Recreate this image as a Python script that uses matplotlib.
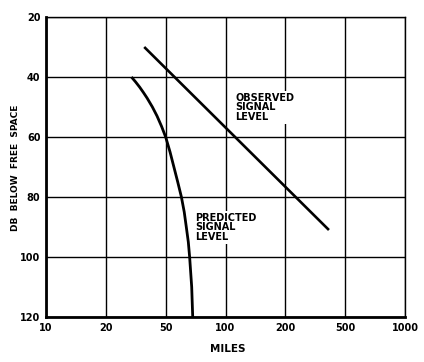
import numpy as np
import matplotlib
matplotlib.use("Agg")
import matplotlib.pyplot as plt

# miles axis is drawn with equal spacing between the 1-2-5 labels
mile_ticks = [10, 20, 50, 100, 200, 500, 1000]
db_ticks = [20, 40, 60, 80, 100, 120]

# observed signal level (straight line)
obs_miles = [36, 390]
obs_db = [30, 91]

# predicted signal level (curve)
pred_miles = [29.6, 31.5, 33.6, 35.6, 37.6, 40.8, 43.8, 47.0, 50, 52.6, 55, 57.5,
              60, 62, 63.5, 65, 66, 67.6, 68.4]
pred_db = [40, 41.6, 43.4, 45.2, 47, 50, 53, 56.5, 60, 65, 70, 75,
           80, 85, 90, 95, 100, 110, 120]

lt = np.log10(mile_ticks)
pos = np.arange(len(mile_ticks))

def fwd(m):
    m = np.clip(np.asarray(m, dtype=float), 1e-6, None)
    return np.interp(np.log10(m), lt, pos)

def inv(p):
    return 10 ** np.interp(p, pos, lt)

plt.rcParams['font.family'] = ['DejaVu Sans']
plt.rcParams['font.weight'] = 'bold'

fig = plt.figure(figsize=(4.24, 3.62), dpi=100)
ax = fig.add_axes([46 / 424, 1 - 317 / 362, 359 / 424, 300 / 362])
ax.set_xscale('function', functions=(fwd, inv))
ax.set_xlim(10, 1000)
ax.set_ylim(120, 20)
ax.set_xticks(mile_ticks)
ax.set_xticklabels([str(t) for t in mile_ticks])
ax.set_yticks(db_ticks)
ax.set_yticklabels([str(t) for t in db_ticks])
ax.minorticks_off()
ax.tick_params(length=0, labelsize=7, pad=4)
ax.grid(True, color='black', lw=1.0)
ax.set_axisbelow(True)

for s in ['left', 'bottom']:
    ax.spines[s].set_linewidth(2.0)
for s in ['top', 'right']:
    ax.spines[s].set_linewidth(1.0)

ax.plot(obs_miles, obs_db, color='black', lw=1.9, solid_capstyle='butt')
ax.plot(pred_miles, pred_db, color='black', lw=2.0, solid_capstyle='butt',
        solid_joinstyle='round')

box = dict(facecolor='white', edgecolor='none', pad=1.5)
ax.text(112, 45.3, "OBSERVED\nSIGNAL\nLEVEL", fontsize=7, fontweight='bold',
        ha='left', va='top', linespacing=0.95, bbox=box, zorder=3)
ax.text(70.6, 85.3, "PREDICTED\nSIGNAL\nLEVEL", fontsize=7, fontweight='bold',
        ha='left', va='top', linespacing=0.95, bbox=box, zorder=3)

fig.text(228 / 424, 1 - 349 / 362, "MILES", fontsize=7.5, fontweight='bold',
         ha='center', va='center')
fig.text(16 / 424, 1 - 168 / 362, "DB  BELOW  FREE  SPACE", fontsize=6.5,
         fontweight='bold', ha='center', va='center', rotation=90)

fig.savefig("out.png", dpi=100)
